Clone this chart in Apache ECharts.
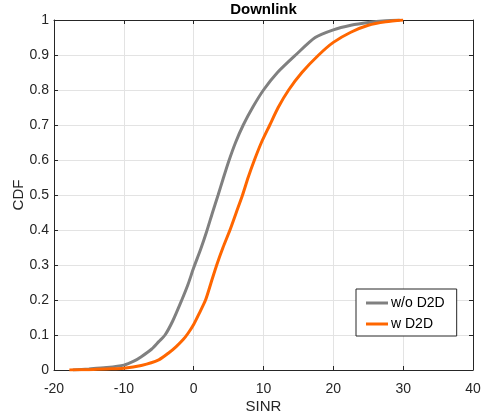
<!DOCTYPE html>
<html>
<head>
<meta charset="utf-8">
<script src="https://cdn.jsdelivr.net/npm/echarts@6/dist/echarts.min.js"></script>
<style>
  html, body { margin: 0; padding: 0; background: #fff; }
  #chart { width: 481px; height: 419px; }
</style>
</head>
<body>
<div id="chart"></div>
<script>
// Empirical CDF of downlink SINR (dB), with and without D2D
const seriesNames = ['w/o D2D', 'w D2D'];

const sinrNoD2D = [-17.3, -15, -12.5, -10, -8.5, -7.5, -6, -5, -4.1, -3, -1.7, -0.8, 0, 1, 1.85, 2.7, 3.5, 4.2, 5.0, 6.0, 7.1, 8.5, 10.0, 12.0, 14.6, 17.4, 20, 22.5, 25, 27.5, 29.5];
const cdfNoD2D  = [0, 0.003, 0.007, 0.014, 0.026, 0.038, 0.06, 0.081, 0.1, 0.14, 0.2, 0.245, 0.292, 0.345, 0.395, 0.45, 0.5, 0.545, 0.595, 0.65, 0.7, 0.752, 0.8, 0.85, 0.9, 0.95, 0.972, 0.985, 0.993, 0.998, 1.0];

const sinrD2D = [-17.8, -15, -12.5, -10, -7.5, -5, -3.5, -2.5, -1.5, -0.8, 0, 0.8, 1.7, 2.5, 3.3, 4.2, 5.2, 6.1, 7.0, 7.8, 8.7, 9.7, 10.9, 12.1, 13.6, 15.5, 17.9, 20, 22.5, 25, 27.5, 30];
const cdfD2D  = [0, 0.001, 0.003, 0.005, 0.013, 0.029, 0.05, 0.067, 0.087, 0.105, 0.13, 0.162, 0.2, 0.25, 0.3, 0.35, 0.4, 0.45, 0.5, 0.55, 0.6, 0.65, 0.7, 0.75, 0.8, 0.85, 0.9, 0.936, 0.965, 0.985, 0.995, 1.0];

const pairs = (xs, ys) => xs.map((x, i) => [x, ys[i]]);

const FONT = '"Liberation Sans", Arial, Helvetica, sans-serif';
const INK = '#262626';

const chart = echarts.init(document.getElementById('chart'), null, { renderer: 'canvas' });

const boxAxis = {
  axisLine: { show: true, onZero: false, lineStyle: { color: INK, width: 1 } },
  axisTick: { show: true, inside: true, length: 4, lineStyle: { color: INK, width: 1 } },
};

chart.setOption({
  animation: false,
  backgroundColor: '#ffffff',
  title: {
    text: 'Downlink',
    left: 263.5,
    textAlign: 'center',
    top: 2,
    padding: 0,
    textStyle: { fontFamily: FONT, fontSize: 15, fontWeight: 'bold', color: '#000' }
  },
  grid: { left: 54, right: 8, top: 20, bottom: 49, containLabel: false, outerBoundsMode: 'none' },
  legend: {
    orient: 'vertical',
    left: 356,
    top: 289,
    width: 101,
    padding: [7, 12, 5, 10],
    itemGap: 7,
    itemWidth: 22,
    itemHeight: 3,
    icon: 'rect',
    backgroundColor: '#ffffff',
    borderColor: INK,
    borderWidth: 1,
    borderRadius: 0,
    textStyle: { fontFamily: FONT, fontSize: 14, color: '#000', padding: [0, 0, 0, -2] },
    data: seriesNames
  },
  xAxis: [
    Object.assign({
      type: 'value', min: -20, max: 40, interval: 10, position: 'bottom',
      name: 'SINR', nameLocation: 'middle', nameGap: 29, nameMoveOverlap: false,
      nameTextStyle: { fontFamily: FONT, fontSize: 15, color: INK },
      axisLabel: { fontFamily: FONT, fontSize: 14, color: INK, margin: 12 },
      splitLine: { show: true, lineStyle: { color: '#e3e3e3', width: 1 } }
    }, boxAxis),
    Object.assign({
      type: 'value', min: -20, max: 40, interval: 10, position: 'top',
      axisLabel: { show: false }, splitLine: { show: false }
    }, boxAxis)
  ],
  yAxis: [
    Object.assign({
      type: 'value', min: 0, max: 1, interval: 0.1, position: 'left',
      name: 'CDF', nameLocation: 'middle', nameGap: 28, nameMoveOverlap: false,
      nameTextStyle: { fontFamily: FONT, fontSize: 15, color: INK },
      axisLabel: { fontFamily: FONT, fontSize: 14, color: INK, margin: 5 },
      splitLine: { show: true, lineStyle: { color: '#e3e3e3', width: 1 } }
    }, boxAxis),
    Object.assign({
      type: 'value', min: 0, max: 1, interval: 0.1, position: 'right',
      axisLabel: { show: false }, splitLine: { show: false }
    }, boxAxis)
  ],
  series: [
    {
      name: seriesNames[0], type: 'line', xAxisIndex: 0, yAxisIndex: 0,
      data: pairs(sinrNoD2D, cdfNoD2D),
      showSymbol: false, smooth: 0.25,
      color: '#808080',
      lineStyle: { width: 3, color: '#808080' }
    },
    {
      name: seriesNames[1], type: 'line', xAxisIndex: 0, yAxisIndex: 0,
      data: pairs(sinrD2D, cdfD2D),
      showSymbol: false, smooth: 0.25,
      color: '#ff6600',
      lineStyle: { width: 3, color: '#ff6600' }
    }
  ]
});
</script>
</body>
</html>
